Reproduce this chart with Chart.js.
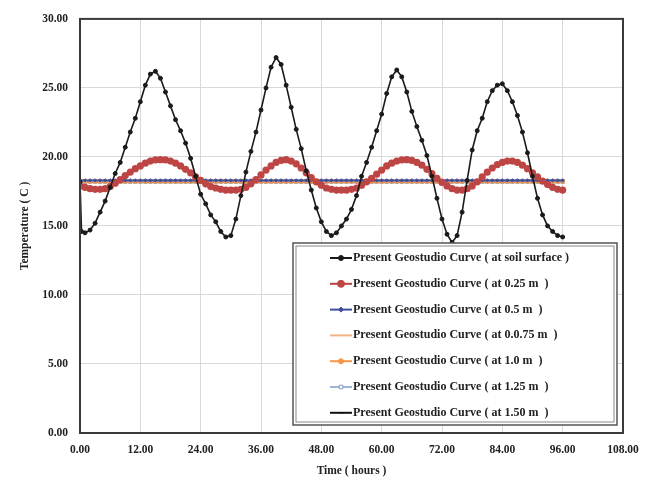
<!DOCTYPE html>
<html>
<head>
<meta charset="utf-8">
<script src="https://cdn.jsdelivr.net/npm/chart.js@4.4.1/dist/chart.umd.min.js"></script>
<style>
  html, body { margin: 0; padding: 0; background: #fff; }
  #wrap { width: 649px; height: 488px; }
</style>
</head>
<body>
<div id="wrap"><canvas id="tempChart" width="649" height="488"></canvas></div>
<script>
// time axis (hours)
const hours = [
  0, 1, 2, 3, 4, 5, 6, 7, 8, 9, 10, 11, 12, 13, 14, 15, 16, 17, 18, 19,
  20, 21, 22, 23, 24, 25, 26, 27, 28, 29, 30, 31, 32, 33, 34, 35, 36, 37, 38, 39,
  40, 41, 42, 43, 44, 45, 46, 47, 48, 49, 50, 51, 52, 53, 54, 55, 56, 57, 58, 59,
  60, 61, 62, 63, 64, 65, 66, 67, 68, 69, 70, 71, 72, 73, 74, 75, 76, 77, 78, 79,
  80, 81, 82, 83, 84, 85, 86, 87, 88, 89, 90, 91, 92, 93, 94, 95, 96
];
// soil surface has an extra point just after t=0 (the sudden drop)
const surfaceHours = [0, 0.3].concat(hours.slice(1));
const surfaceTemp = [
  18.2, 14.6,
  14.5, 14.7, 15.2, 16.0, 16.8, 17.8, 18.8, 19.6, 20.7,
  21.8, 22.8, 24.0, 25.2, 26.0, 26.2, 25.7, 24.7, 23.7, 22.7,
  21.9, 21.0, 19.9, 18.6, 17.3, 16.6, 15.8, 15.3, 14.6, 14.2,
  14.3, 15.5, 17.2, 18.9, 20.4, 21.8, 23.4, 25.0, 26.5, 27.2,
  26.7, 25.2, 23.6, 22.0, 20.6, 19.0, 17.6, 16.3, 15.3, 14.6,
  14.3, 14.5, 15.0, 15.5, 16.2, 17.2, 18.6, 19.6, 20.7, 21.9,
  23.1, 24.6, 25.8, 26.3, 25.8, 24.7, 23.3, 22.2, 21.2, 20.1,
  18.6, 17.0, 15.5, 14.4, 13.8, 14.3, 16.0, 18.3, 20.5, 21.9,
  22.8, 24.0, 24.8, 25.2, 25.3, 24.8, 24.0, 23.0, 21.8, 20.3,
  18.6, 17.0, 15.8, 15.0, 14.6, 14.3, 14.2
];
const temp025 = [
  17.9, 17.8, 17.7, 17.65, 17.65, 17.7, 17.85, 18.1, 18.35, 18.65,
  18.9, 19.15, 19.35, 19.55, 19.7, 19.78, 19.8, 19.78, 19.7, 19.55,
  19.35, 19.1, 18.85, 18.55, 18.3, 18.05, 17.85, 17.75, 17.65, 17.6,
  17.6, 17.6, 17.65, 17.8, 18.05, 18.35, 18.7, 19.05, 19.35, 19.6,
  19.75, 19.8, 19.7, 19.5, 19.2, 18.85, 18.5, 18.2, 17.95, 17.75,
  17.65, 17.6, 17.6, 17.6, 17.65, 17.75, 17.95, 18.2, 18.45, 18.75,
  19.05, 19.35, 19.55, 19.7, 19.78, 19.8, 19.75, 19.6, 19.4, 19.1,
  18.8, 18.45, 18.15, 17.9, 17.7, 17.6, 17.6, 17.7, 17.9, 18.2,
  18.55, 18.9, 19.2, 19.45, 19.6, 19.7, 19.7, 19.6, 19.4, 19.15,
  18.85, 18.55, 18.25, 18.0, 17.8, 17.65, 17.6
];
const temp050 = [
  18.3, 18.3, 18.3, 18.3, 18.3, 18.3, 18.3, 18.3, 18.3, 18.3,
  18.3, 18.3, 18.3, 18.3, 18.3, 18.3, 18.3, 18.3, 18.3, 18.3,
  18.3, 18.3, 18.3, 18.3, 18.3, 18.3, 18.3, 18.3, 18.3, 18.3,
  18.3, 18.3, 18.3, 18.3, 18.3, 18.3, 18.3, 18.3, 18.3, 18.3,
  18.3, 18.3, 18.3, 18.3, 18.3, 18.3, 18.3, 18.3, 18.3, 18.3,
  18.3, 18.3, 18.3, 18.3, 18.3, 18.3, 18.3, 18.3, 18.3, 18.3,
  18.3, 18.3, 18.3, 18.3, 18.3, 18.3, 18.3, 18.3, 18.3, 18.3,
  18.3, 18.3, 18.3, 18.3, 18.3, 18.3, 18.3, 18.3, 18.3, 18.3,
  18.3, 18.3, 18.3, 18.3, 18.3, 18.3, 18.3, 18.3, 18.3, 18.3,
  18.3, 18.3, 18.3, 18.3, 18.3, 18.3, 18.3
];
const temp075 = [
  18.25, 18.25, 18.25, 18.25, 18.25, 18.25, 18.25, 18.25, 18.25, 18.25,
  18.25, 18.25, 18.25, 18.25, 18.25, 18.25, 18.25, 18.25, 18.25, 18.25,
  18.25, 18.25, 18.25, 18.25, 18.25, 18.25, 18.25, 18.25, 18.25, 18.25,
  18.25, 18.25, 18.25, 18.25, 18.25, 18.25, 18.25, 18.25, 18.25, 18.25,
  18.25, 18.25, 18.25, 18.25, 18.25, 18.25, 18.25, 18.25, 18.25, 18.25,
  18.25, 18.25, 18.25, 18.25, 18.25, 18.25, 18.25, 18.25, 18.25, 18.25,
  18.25, 18.25, 18.25, 18.25, 18.25, 18.25, 18.25, 18.25, 18.25, 18.25,
  18.25, 18.25, 18.25, 18.25, 18.25, 18.25, 18.25, 18.25, 18.25, 18.25,
  18.25, 18.25, 18.25, 18.25, 18.25, 18.25, 18.25, 18.25, 18.25, 18.25,
  18.25, 18.25, 18.25, 18.25, 18.25, 18.25, 18.25
];
const temp100 = [
  18.24, 18.24, 18.24, 18.24, 18.24, 18.24, 18.24, 18.24, 18.24, 18.24,
  18.24, 18.24, 18.24, 18.24, 18.24, 18.24, 18.24, 18.24, 18.24, 18.24,
  18.24, 18.24, 18.24, 18.24, 18.24, 18.24, 18.24, 18.24, 18.24, 18.24,
  18.24, 18.24, 18.24, 18.24, 18.24, 18.24, 18.24, 18.24, 18.24, 18.24,
  18.24, 18.24, 18.24, 18.24, 18.24, 18.24, 18.24, 18.24, 18.24, 18.24,
  18.24, 18.24, 18.24, 18.24, 18.24, 18.24, 18.24, 18.24, 18.24, 18.24,
  18.24, 18.24, 18.24, 18.24, 18.24, 18.24, 18.24, 18.24, 18.24, 18.24,
  18.24, 18.24, 18.24, 18.24, 18.24, 18.24, 18.24, 18.24, 18.24, 18.24,
  18.24, 18.24, 18.24, 18.24, 18.24, 18.24, 18.24, 18.24, 18.24, 18.24,
  18.24, 18.24, 18.24, 18.24, 18.24, 18.24, 18.24
];
const temp125 = [
  18.22, 18.22, 18.22, 18.22, 18.22, 18.22, 18.22, 18.22, 18.22, 18.22,
  18.22, 18.22, 18.22, 18.22, 18.22, 18.22, 18.22, 18.22, 18.22, 18.22,
  18.22, 18.22, 18.22, 18.22, 18.22, 18.22, 18.22, 18.22, 18.22, 18.22,
  18.22, 18.22, 18.22, 18.22, 18.22, 18.22, 18.22, 18.22, 18.22, 18.22,
  18.22, 18.22, 18.22, 18.22, 18.22, 18.22, 18.22, 18.22, 18.22, 18.22,
  18.22, 18.22, 18.22, 18.22, 18.22, 18.22, 18.22, 18.22, 18.22, 18.22,
  18.22, 18.22, 18.22, 18.22, 18.22, 18.22, 18.22, 18.22, 18.22, 18.22,
  18.22, 18.22, 18.22, 18.22, 18.22, 18.22, 18.22, 18.22, 18.22, 18.22,
  18.22, 18.22, 18.22, 18.22, 18.22, 18.22, 18.22, 18.22, 18.22, 18.22,
  18.22, 18.22, 18.22, 18.22, 18.22, 18.22, 18.22
];
const temp150 = [
  18.2, 18.2, 18.2, 18.2, 18.2, 18.2, 18.2, 18.2, 18.2, 18.2,
  18.2, 18.2, 18.2, 18.2, 18.2, 18.2, 18.2, 18.2, 18.2, 18.2,
  18.2, 18.2, 18.2, 18.2, 18.2, 18.2, 18.2, 18.2, 18.2, 18.2,
  18.2, 18.2, 18.2, 18.2, 18.2, 18.2, 18.2, 18.2, 18.2, 18.2,
  18.2, 18.2, 18.2, 18.2, 18.2, 18.2, 18.2, 18.2, 18.2, 18.2,
  18.2, 18.2, 18.2, 18.2, 18.2, 18.2, 18.2, 18.2, 18.2, 18.2,
  18.2, 18.2, 18.2, 18.2, 18.2, 18.2, 18.2, 18.2, 18.2, 18.2,
  18.2, 18.2, 18.2, 18.2, 18.2, 18.2, 18.2, 18.2, 18.2, 18.2,
  18.2, 18.2, 18.2, 18.2, 18.2, 18.2, 18.2, 18.2, 18.2, 18.2,
  18.2, 18.2, 18.2, 18.2, 18.2, 18.2, 18.2
];

const seriesLabels = [
  "Present Geostudio Curve ( at soil surface )",
  "Present Geostudio Curve ( at 0.25 m  )",
  "Present Geostudio Curve ( at 0.5 m  )",
  "Present Geostudio Curve ( at 0.0.75 m  )",
  "Present Geostudio Curve ( at 1.0 m  )",
  "Present Geostudio Curve ( at 1.25 m  )",
  "Present Geostudio Curve ( at 1.50 m  )",
];
const xTicks = [0, 12, 24, 36, 48, 60, 72, 84, 96, 108];
const yTicks = [0, 5, 10, 15, 20, 25, 30];

const SERIF = "'Liberation Serif', 'Times New Roman', serif";

const toPoints = (xs, ys) => ys.map((y, i) => ({ x: xs[i], y }));

// plot frame + legend box drawn over the chart area
const frameAndLegend = {
  id: "frameAndLegend",
  afterDraw(chart) {
    const { ctx, chartArea: a } = chart;
    ctx.save();
    ctx.strokeStyle = "#3a3a3a";
    ctx.lineWidth = 2;
    ctx.strokeRect(a.left, a.top, a.right - a.left, a.bottom - a.top);

    const box = { x: 293, y: 243, w: 324, h: 182 };
    ctx.fillStyle = "#fff";
    ctx.fillRect(box.x, box.y, box.w, box.h);
    ctx.strokeStyle = "#555";
    ctx.lineWidth = 1.5;
    ctx.strokeRect(box.x, box.y, box.w, box.h);
    ctx.lineWidth = 1;
    ctx.strokeStyle = "#888";
    ctx.strokeRect(box.x + 3, box.y + 3, box.w - 6, box.h - 6);

    ctx.font = "bold 12px " + SERIF;
    ctx.textBaseline = "middle";
    chart.data.datasets.forEach((ds, i) => {
      const y = box.y + 15 + i * 25.8;
      ctx.strokeStyle = ds.borderColor;
      ctx.lineWidth = 2;
      ctx.beginPath();
      ctx.moveTo(330, y);
      ctx.lineTo(352, y);
      ctx.stroke();
      if (ds.pointStyle && ds.pointRadius > 0) {
        ctx.fillStyle = ds.pointBackgroundColor;
        ctx.strokeStyle = ds.pointBorderColor;
        ctx.lineWidth = 1;
        Chart.helpers.drawPoint(ctx, {
          pointStyle: ds.pointStyle,
          radius: Math.min(Math.max(ds.pointRadius, 2.5), 3.5),
          borderWidth: 1,
          rotation: 0,
        }, 341, y);
      }
      ctx.fillStyle = "#222";
      ctx.fillText(ds.label, 353, y);
    });
    ctx.restore();
  },
};

const ctx = document.getElementById("tempChart");
new Chart(ctx, {
  type: "line",
  data: {
    datasets: [
      {
        label: seriesLabels[0],
        data: toPoints(surfaceHours, surfaceTemp),
        borderColor: "#1a1a1a",
        borderWidth: 1.6,
        pointStyle: "circle",
        pointRadius: 2,
        pointBorderWidth: 1,
        pointBackgroundColor: "#1a1a1a",
        pointBorderColor: "#1a1a1a",
      },
      {
        label: seriesLabels[1],
        data: toPoints(hours, temp025),
        borderColor: "#b8423f",
        borderWidth: 2,
        pointStyle: "circle",
        pointRadius: 3.6,
        pointBorderWidth: 0,
        pointBackgroundColor: "#bd4543",
        pointBorderColor: "#bd4543",
      },
      {
        label: seriesLabels[2],
        data: toPoints(hours, temp050),
        borderColor: "#3f4f9c",
        borderWidth: 2,
        pointStyle: "rectRot",
        pointRadius: 1.6,
        pointBorderWidth: 1,
        pointBackgroundColor: "#3f4f9c",
        pointBorderColor: "#3f4f9c",
      },
      {
        label: seriesLabels[3],
        data: toPoints(hours, temp075),
        borderColor: "#f4b183",
        borderWidth: 2,
        pointStyle: false,
        pointRadius: 0,
      },
      {
        label: seriesLabels[4],
        data: toPoints(hours, temp100),
        borderColor: "#f79646",
        borderWidth: 2,
        pointStyle: "circle",
        pointRadius: 1.5,
        pointBackgroundColor: "#f79646",
        pointBorderColor: "#f79646",
      },
      {
        label: seriesLabels[5],
        data: toPoints(hours, temp125),
        borderColor: "#9fb6d6",
        borderWidth: 2,
        pointStyle: "rect",
        pointRadius: 1.6,
        pointBackgroundColor: "#ffffff",
        pointBorderColor: "#7f9cc8",
      },
      {
        label: seriesLabels[6],
        data: toPoints(hours, temp150),
        borderColor: "#111",
        borderWidth: 2,
        pointStyle: "line",
        pointRadius: 2,
        pointBackgroundColor: "#111",
        pointBorderColor: "#111",
      },
    ],
  },
  options: {
    responsive: false,
    animation: false,
    devicePixelRatio: 1,
    layout: { padding: { top: 15, right: 26, bottom: 0, left: 0 } },
    plugins: {
      legend: { display: false },
      tooltip: { enabled: false },
    },
    elements: { line: { tension: 0 } },
    scales: {
      x: {
        type: "linear",
        min: 0,
        max: 108,
        afterBuildTicks: (scale) => { scale.ticks = xTicks.map((v) => ({ value: v })); },
        afterFit: (scale) => { scale.height = 55; },
        ticks: {
          padding: 10,
          color: "#222",
          font: { family: SERIF, size: 11.5, weight: "bold" },
          callback: (v) => Number(v).toFixed(2),
          maxRotation: 0,
        },
        grid: { color: "#d9d9d9", drawTicks: false },
        border: { color: "#222", width: 2 },
        title: {
          display: true,
          text: "Time ( hours )",
          color: "#222",
          font: { family: SERIF, size: 11.5, weight: "bold" },
          padding: { top: 0, bottom: 10 },
        },
      },
      y: {
        min: 0,
        max: 30,
        afterBuildTicks: (scale) => { scale.ticks = yTicks.map((v) => ({ value: v })); },
        afterFit: (scale) => { scale.width = 80; },
        ticks: {
          padding: 12,
          color: "#222",
          font: { family: SERIF, size: 11.5, weight: "bold" },
          callback: (v) => Number(v).toFixed(2),
        },
        grid: { color: "#d9d9d9", drawTicks: false },
        border: { color: "#222", width: 2 },
        title: {
          display: true,
          text: "Temperature ( C )",
          color: "#222",
          font: { family: SERIF, size: 11.5, weight: "bold" },
          padding: { top: 18, bottom: 0 },
        },
      },
    },
  },
  plugins: [frameAndLegend],
});
</script>
</body>
</html>
